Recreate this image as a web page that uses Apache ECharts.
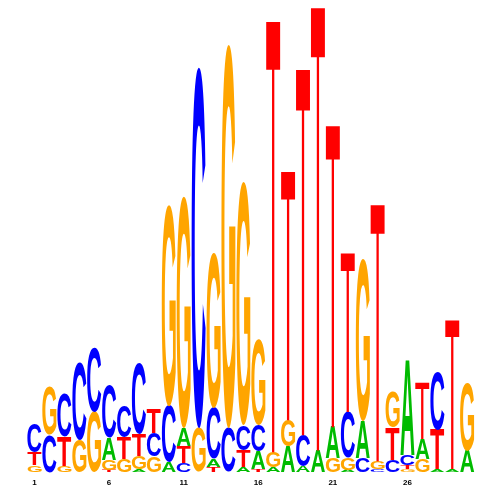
<!DOCTYPE html>
<html><head><meta charset="utf-8">
<script src="https://cdn.jsdelivr.net/npm/echarts@6/dist/echarts.min.js"></script>
<style>html,body{margin:0;padding:0;background:#fff}#c{width:500px;height:500px}</style>
</head><body><div id="c"></div>
<script>
// Sequence logo: information (bits) per letter per position
const positions = Array.from({length: 30}, (_, i) => String(i + 1));
const letters = ['A', 'C', 'G', 'T'];
const bitsA = [0, 0, 0, 0, 0, 0.095, 0, 0.013, 0, 0.043, 0.078, 0, 0.034, 0, 0.022, 0.078, 0.022, 0.110, 0.026, 0.095, 0.134, 0.009, 0.159, 0, 0, 0.409, 0.086, 0.013, 0.013, 0.091];
const bitsC = [0.121, 0.159, 0.185, 0.336, 0.276, 0.228, 0.134, 0.306, 0.100, 0.241, 0.039, 1.552, 0.220, 0.190, 0.108, 0.112, 0, 0, 0.134, 0, 0, 0.198, 0.060, 0.013, 0.052, 0.043, 0, 0.250, 0, 0];
const bitsG = [0.030, 0.211, 0.026, 0.138, 0.259, 0.043, 0.056, 0.056, 0.069, 0.866, 0.996, 0.190, 0.668, 1.651, 1.047, 0.366, 0.065, 0.114, 0, 0, 0.060, 0.052, 0.694, 0.034, 0.151, 0.013, 0.056, 0, 0, 0.297];
const bitsT = [0.056, 0, 0.125, 0, 0, 0.009, 0.095, 0.095, 0.107, 0, 0.073, 0, 0.022, 0, 0.073, 0.013, 1.853, 1.069, 1.573, 1.905, 1.297, 0.681, 0, 1.103, 0.138, 0.017, 0.241, 0.168, 0.638, 0];
const colors = {A: '#00bb00', C: '#0000ff', G: '#ffa500', T: '#ff0000'};

const FS = 400;
const FONT_BOLD = 'bold ' + FS + 'px "Liberation Sans", Arial, sans-serif';
const FONT_REG = 'normal ' + FS + 'px "Liberation Sans", Arial, sans-serif';
// measure true glyph ink bounds by rasterising once (relative to centre/middle anchor)
const CW = 800, CH = 800;
const cnv = document.createElement('canvas'); cnv.width = CW; cnv.height = CH;
const ctx = cnv.getContext('2d', {willReadFrequently: true});
function measure(font) {
  const out = {};
  letters.forEach(L => {
    ctx.clearRect(0, 0, CW, CH);
    ctx.font = font; ctx.textBaseline = 'middle'; ctx.textAlign = 'center'; ctx.fillStyle = '#000';
    ctx.fillText(L, CW / 2, CH / 2);
    const d = ctx.getImageData(0, 0, CW, CH).data;
    let minX = CW, maxX = -1, minY = CH, maxY = -1;
    for (let y = 0; y < CH; y++) for (let x = 0; x < CW; x++) {
      if (d[(y * CW + x) * 4 + 3] >= 128) {
        if (x < minX) minX = x; if (x > maxX) maxX = x;
        if (y < minY) minY = y; if (y > maxY) maxY = y;
      }
    }
    out[L] = {l: CW / 2 - minX, r: maxX + 1 - CW / 2, a: CH / 2 - minY, d: maxY + 1 - CH / 2};
  });
  return out;
}
const measBold = measure(FONT_BOLD);
const measReg = measure(FONT_REG);

const table = {A: bitsA, C: bitsC, G: bitsG, T: bitsT};
const items = [];
positions.forEach((p, i) => {
  const stack = letters.map((L, k) => ({L, k, v: table[L][i]})).filter(o => o.v > 0);
  stack.sort((a, b) => a.v - b.v);
  let y = 0;
  stack.forEach(o => { items.push([i, y, y + o.v, o.k]); y += o.v; });
});

const chart = echarts.init(document.getElementById('c'), null, {renderer: 'canvas'});
chart.setOption({
  animation: false,
  backgroundColor: '#ffffff',
  grid: {left: 27, right: 25.4, top: 8, bottom: 28},
  xAxis: {
    type: 'category', data: positions, boundaryGap: true,
    axisLine: {show: false}, axisTick: {show: false}, splitLine: {show: false},
    axisLabel: {interval: 4, margin: 7, fontSize: 8, fontWeight: 'bold', color: '#000', fontFamily: 'Liberation Sans'}
  },
  yAxis: {type: 'value', min: 0, max: 2, show: false},
  series: [{
    type: 'custom',
    data: items,
    renderItem: function (params, api) {
      const i = api.value(0), y0 = api.value(1), y1 = api.value(2);
      const L = letters[api.value(3)];
      const pB = api.coord([i, y0]), pT = api.coord([i, y1]);
      const bw = api.size([1, 0])[0];
      const w = bw - 1;
      const x0 = pB[0] - w / 2;
      const hpx = pB[1] - pT[1];
      const thin = (L === 'T' && hpx > 50);
      const m = thin ? measReg[L] : measBold[L];
      const font = thin ? FONT_REG : FONT_BOLD;
      const sx = w / (m.l + m.r), sy = hpx / (m.a + m.d);
      return {
        type: 'text', silent: true,
        x: x0 + m.l * sx, y: pT[1] + m.a * sy, scaleX: sx, scaleY: sy,
        style: {text: L, font: font, fill: colors[L], align: 'center', verticalAlign: 'middle'}
      };
    }
  }]
});
</script></body></html>
